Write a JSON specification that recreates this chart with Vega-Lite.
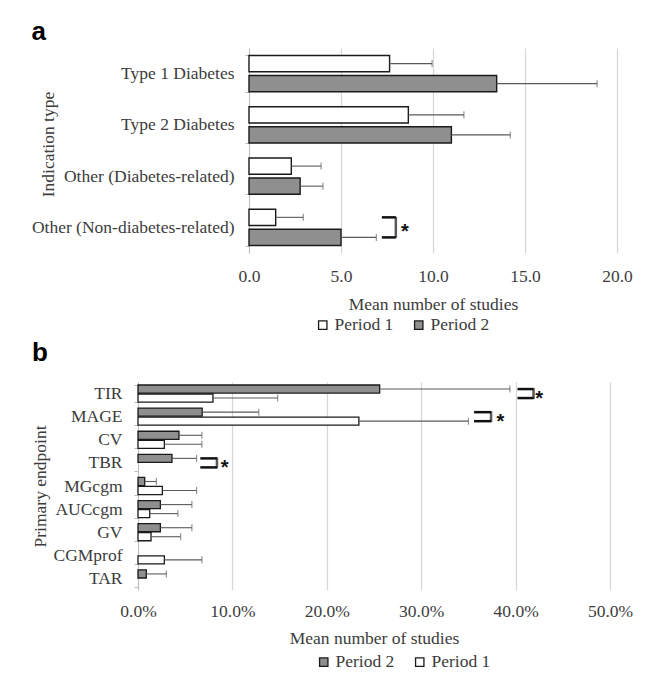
{
  "$schema": "https://vega.github.io/schema/vega-lite/v6.json",
  "background": "white",
  "padding": {"left": 31, "top": 19, "right": 5, "bottom": 0},
  "spacing": 6,
  "datasets": {
    "a": [
      {"indication": "Type 1 Diabetes", "period": "Period 1", "mean": 7.64, "upper": 9.95},
      {"indication": "Type 1 Diabetes", "period": "Period 2", "mean": 13.46, "upper": 18.92},
      {"indication": "Type 2 Diabetes", "period": "Period 1", "mean": 8.66, "upper": 11.68},
      {"indication": "Type 2 Diabetes", "period": "Period 2", "mean": 11.0, "upper": 14.2},
      {"indication": "Other (Diabetes-related)", "period": "Period 1", "mean": 2.3, "upper": 3.92},
      {"indication": "Other (Diabetes-related)", "period": "Period 2", "mean": 2.78, "upper": 4.02},
      {"indication": "Other (Non-diabetes-related)", "period": "Period 1", "mean": 1.45, "upper": 2.95},
      {"indication": "Other (Non-diabetes-related)", "period": "Period 2", "mean": 5.0, "upper": 6.92}
    ],
    "a_bracket": [
      {"indication": "Other (Non-diabetes-related)", "period": "Period 1", "from": 7.22, "to": 7.98},
      {"indication": "Other (Non-diabetes-related)", "period": "Period 2", "from": 7.22, "to": 7.98}
    ],
    "a_star": [
      {"indication": "Other (Non-diabetes-related)", "to": 7.98, "star": 8.47, "label": "*"}
    ],
    "b": [
      {"endpoint": "TIR", "period": "Period 2", "mean": 0.256, "upper": 0.394},
      {"endpoint": "TIR", "period": "Period 1", "mean": 0.0794, "upper": 0.148},
      {"endpoint": "MAGE", "period": "Period 2", "mean": 0.068, "upper": 0.128},
      {"endpoint": "MAGE", "period": "Period 1", "mean": 0.234, "upper": 0.35},
      {"endpoint": "CV", "period": "Period 2", "mean": 0.0434, "upper": 0.0677},
      {"endpoint": "CV", "period": "Period 1", "mean": 0.0279, "upper": 0.0677},
      {"endpoint": "TBR", "period": "Period 2", "mean": 0.036, "upper": 0.0621},
      {"endpoint": "MGcgm", "period": "Period 2", "mean": 0.0071, "upper": 0.0194},
      {"endpoint": "MGcgm", "period": "Period 1", "mean": 0.0258, "upper": 0.0621},
      {"endpoint": "AUCcgm", "period": "Period 2", "mean": 0.0237, "upper": 0.0571},
      {"endpoint": "AUCcgm", "period": "Period 1", "mean": 0.0124, "upper": 0.0423},
      {"endpoint": "GV", "period": "Period 2", "mean": 0.0237, "upper": 0.0571},
      {"endpoint": "GV", "period": "Period 1", "mean": 0.0138, "upper": 0.0452},
      {"endpoint": "CGMprof", "period": "Period 1", "mean": 0.0279, "upper": 0.0677},
      {"endpoint": "TAR", "period": "Period 2", "mean": 0.0088, "upper": 0.03}
    ],
    "b_bracket": [
      {"endpoint": "TIR", "period": "Period 2", "from": 0.402, "to": 0.419},
      {"endpoint": "TIR", "period": "Period 1", "from": 0.402, "to": 0.419},
      {"endpoint": "MAGE", "period": "Period 2", "from": 0.356, "to": 0.374},
      {"endpoint": "MAGE", "period": "Period 1", "from": 0.356, "to": 0.374},
      {"endpoint": "TBR", "period": "Period 2", "from": 0.066, "to": 0.0836},
      {"endpoint": "TBR", "period": "Period 1", "from": 0.066, "to": 0.0836}
    ],
    "b_star": [
      {"endpoint": "TIR", "to": 0.419, "star": 0.425, "label": "*"},
      {"endpoint": "MAGE", "to": 0.374, "star": 0.384, "label": "*"},
      {"endpoint": "TBR", "to": 0.0836, "star": 0.0917, "label": "*"}
    ]
  },
  "vconcat": [
    {
      "title": {"text": "a", "anchor": "start", "frame": "bounds", "font": "Liberation Sans", "fontSize": 26, "fontWeight": "bold", "color": "#000000", "baseline": "bottom", "offset": -32},
      "width": 479,
      "height": 205,
      "layer": [
        {
          "data": {"name": "a"},
          "mark": {"type": "bar", "stroke": "#1a1a1a", "strokeWidth": 1.4},
          "encoding": {
            "y": {"field": "indication", "type": "nominal", "title": "Indication type",
                  "sort": ["Type 1 Diabetes", "Type 2 Diabetes", "Other (Diabetes-related)", "Other (Non-diabetes-related)"],
                  "scale": {"paddingInner": 0.29, "paddingOuter": 0.145},
                  "axis": {"offset": -111, "labelPadding": 11, "tickSize": 4, "tickBand": "extent", "titleX": -201, "titleY": 96, "titleAngle": 270, "titleBaseline": "middle", "titleAlign": "center"}},
            "yOffset": {"field": "period", "type": "nominal", "sort": ["Period 1", "Period 2"], "scale": {"paddingInner": 0.185, "paddingOuter": 0}},
            "x": {"field": "mean", "type": "quantitative", "title": "Mean number of studies",
                  "scale": {"domain": [0, 20], "nice": false, "range": [111, 479]},
                  "axis": {"values": [0, 5, 10, 15, 20], "format": ".1f", "labelPadding": 14, "titlePadding": 11}},
            "fill": {"field": "period", "type": "nominal",
                     "scale": {"domain": ["Period 1", "Period 2"], "range": ["#ffffff", "#8f8f8f"]},
                     "legend": {"orient": "none", "legendX": 176, "legendY": 268, "direction": "horizontal", "title": null}}
          }
        },
        {
          "data": {"name": "a"},
          "mark": {"type": "rule", "color": "#5a5a5a", "strokeWidth": 1.1},
          "encoding": {
            "y": {"field": "indication", "type": "nominal", "title": "Indication type", "sort": ["Type 1 Diabetes", "Type 2 Diabetes", "Other (Diabetes-related)", "Other (Non-diabetes-related)"]},
            "yOffset": {"field": "period", "type": "nominal", "sort": ["Period 1", "Period 2"]},
            "x": {"field": "mean", "type": "quantitative", "title": "Mean number of studies"},
            "x2": {"field": "upper"}
          }
        },
        {
          "data": {"name": "a"},
          "mark": {"type": "tick", "color": "#5a5a5a", "size": 7, "thickness": 1.1, "orient": "vertical"},
          "encoding": {
            "y": {"field": "indication", "type": "nominal", "title": "Indication type", "sort": ["Type 1 Diabetes", "Type 2 Diabetes", "Other (Diabetes-related)", "Other (Non-diabetes-related)"]},
            "yOffset": {"field": "period", "type": "nominal", "sort": ["Period 1", "Period 2"]},
            "x": {"field": "upper", "type": "quantitative", "title": "Mean number of studies"}
          }
        },
        {
          "data": {"name": "a_bracket"},
          "mark": {"type": "rule", "color": "#111111", "strokeWidth": 2.5},
          "encoding": {
            "y": {"field": "indication", "type": "nominal", "title": "Indication type", "sort": ["Type 1 Diabetes", "Type 2 Diabetes", "Other (Diabetes-related)", "Other (Non-diabetes-related)"]},
            "yOffset": {"field": "period", "type": "nominal", "sort": ["Period 1", "Period 2"]},
            "x": {"field": "from", "type": "quantitative", "title": "Mean number of studies"},
            "x2": {"field": "to"}
          }
        },
        {
          "data": {"name": "a_star"},
          "mark": {"type": "tick", "color": "#111111", "size": 21, "thickness": 2.5, "orient": "vertical"},
          "encoding": {
            "y": {"field": "indication", "type": "nominal", "title": "Indication type", "sort": ["Type 1 Diabetes", "Type 2 Diabetes", "Other (Diabetes-related)", "Other (Non-diabetes-related)"]},
            "x": {"field": "to", "type": "quantitative", "title": "Mean number of studies"}
          }
        },
        {
          "data": {"name": "a_star"},
          "mark": {"type": "text", "font": "Liberation Sans", "fontSize": 20, "fontWeight": "bold", "color": "#111111", "align": "center", "baseline": "middle", "dy": 5},
          "encoding": {
            "y": {"field": "indication", "type": "nominal", "title": "Indication type", "sort": ["Type 1 Diabetes", "Type 2 Diabetes", "Other (Diabetes-related)", "Other (Non-diabetes-related)"]},
            "x": {"field": "star", "type": "quantitative", "title": "Mean number of studies"},
            "text": {"field": "label"}
          }
        }
      ]
    },
    {
      "title": {"text": "b", "anchor": "start", "frame": "bounds", "font": "Liberation Sans", "fontSize": 26, "fontWeight": "bold", "color": "#000000", "baseline": "bottom", "offset": -19},
      "width": 472,
      "height": 208,
      "layer": [
        {
          "data": {"name": "b"},
          "mark": {"type": "bar", "stroke": "#1a1a1a", "strokeWidth": 1.3},
          "encoding": {
            "y": {"field": "endpoint", "type": "nominal", "title": "Primary endpoint",
                  "sort": ["TIR", "MAGE", "CV", "TBR", "MGcgm", "AUCcgm", "GV", "CGMprof", "TAR"],
                  "scale": {"paddingInner": 0.26, "paddingOuter": 0.13},
                  "axis": {"labelPadding": 12, "tickSize": 4, "tickBand": "extent", "titlePadding": 3}},
            "yOffset": {"field": "period", "type": "nominal", "sort": ["Period 2", "Period 1"], "scale": {"paddingInner": 0.1, "paddingOuter": 0}},
            "x": {"field": "mean", "type": "quantitative", "title": "Mean number of studies",
                  "scale": {"domain": [0, 0.5], "nice": false},
                  "axis": {"values": [0, 0.1, 0.2, 0.3, 0.4, 0.5], "format": ".1%", "labelPadding": 12, "titlePadding": 10}},
            "fill": {"field": "period", "type": "nominal",
                     "scale": {"domain": ["Period 2", "Period 1"], "range": ["#8f8f8f", "#ffffff"]},
                     "legend": {"orient": "none", "legendX": 177, "legendY": 271, "direction": "horizontal", "title": null}}
          }
        },
        {
          "data": {"name": "b"},
          "mark": {"type": "rule", "color": "#5a5a5a", "strokeWidth": 1.1},
          "encoding": {
            "y": {"field": "endpoint", "type": "nominal", "title": "Primary endpoint", "sort": ["TIR", "MAGE", "CV", "TBR", "MGcgm", "AUCcgm", "GV", "CGMprof", "TAR"]},
            "yOffset": {"field": "period", "type": "nominal", "sort": ["Period 2", "Period 1"]},
            "x": {"field": "mean", "type": "quantitative", "title": "Mean number of studies"},
            "x2": {"field": "upper"}
          }
        },
        {
          "data": {"name": "b"},
          "mark": {"type": "tick", "color": "#5a5a5a", "size": 7, "thickness": 1.1, "orient": "vertical"},
          "encoding": {
            "y": {"field": "endpoint", "type": "nominal", "title": "Primary endpoint", "sort": ["TIR", "MAGE", "CV", "TBR", "MGcgm", "AUCcgm", "GV", "CGMprof", "TAR"]},
            "yOffset": {"field": "period", "type": "nominal", "sort": ["Period 2", "Period 1"]},
            "x": {"field": "upper", "type": "quantitative", "title": "Mean number of studies"}
          }
        },
        {
          "data": {"name": "b_bracket"},
          "mark": {"type": "rule", "color": "#111111", "strokeWidth": 2.5},
          "encoding": {
            "y": {"field": "endpoint", "type": "nominal", "title": "Primary endpoint", "sort": ["TIR", "MAGE", "CV", "TBR", "MGcgm", "AUCcgm", "GV", "CGMprof", "TAR"]},
            "yOffset": {"field": "period", "type": "nominal", "sort": ["Period 2", "Period 1"]},
            "x": {"field": "from", "type": "quantitative", "title": "Mean number of studies"},
            "x2": {"field": "to"}
          }
        },
        {
          "data": {"name": "b_star"},
          "mark": {"type": "tick", "color": "#111111", "size": 11, "thickness": 2.5, "orient": "vertical"},
          "encoding": {
            "y": {"field": "endpoint", "type": "nominal", "title": "Primary endpoint", "sort": ["TIR", "MAGE", "CV", "TBR", "MGcgm", "AUCcgm", "GV", "CGMprof", "TAR"]},
            "x": {"field": "to", "type": "quantitative", "title": "Mean number of studies"}
          }
        },
        {
          "data": {"name": "b_star"},
          "mark": {"type": "text", "font": "Liberation Sans", "fontSize": 20, "fontWeight": "bold", "color": "#111111", "align": "center", "baseline": "middle", "dy": 5},
          "encoding": {
            "y": {"field": "endpoint", "type": "nominal", "title": "Primary endpoint", "sort": ["TIR", "MAGE", "CV", "TBR", "MGcgm", "AUCcgm", "GV", "CGMprof", "TAR"]},
            "x": {"field": "star", "type": "quantitative", "title": "Mean number of studies"},
            "text": {"field": "label"}
          }
        }
      ]
    }
  ],
  "resolve": {
    "scale": {"fill": "independent", "x": "independent", "y": "independent", "yOffset": "independent"},
    "legend": {"fill": "independent"}
  },
  "config": {
    "font": "Liberation Serif",
    "view": {"stroke": null},
    "axis": {
      "labelFont": "Liberation Serif",
      "labelFontSize": 17.5,
      "labelColor": "#3c3c3c",
      "labelLimit": 400,
      "titleFont": "Liberation Serif",
      "titleFontSize": 17.5,
      "titleFontWeight": "normal",
      "titleColor": "#3c3c3c"
    },
    "axisX": {"domain": false, "ticks": false, "grid": true, "gridColor": "#d6d6d6", "gridWidth": 1.2, "labelFlush": false},
    "axisY": {"domain": true, "domainColor": "#bdbdbd", "tickColor": "#bdbdbd", "grid": false},
    "legend": {
      "symbolType": "square",
      "symbolSize": 70,
      "symbolStrokeColor": "#1a1a1a",
      "symbolStrokeWidth": 1.3,
      "labelFont": "Liberation Serif",
      "labelFontSize": 17.5,
      "labelColor": "#3c3c3c",
      "labelOffset": 3,
      "columnPadding": 16
    }
  }
}
